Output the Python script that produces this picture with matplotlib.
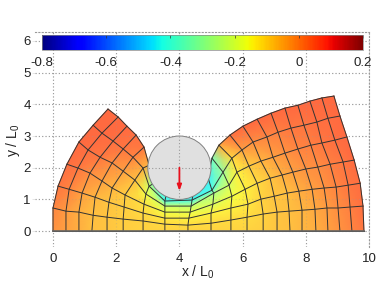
import numpy as np
import matplotlib
matplotlib.use("Agg")
import matplotlib.pyplot as plt
from matplotlib.cm import ScalarMappable
from matplotlib.colors import ListedColormap, Normalize
from matplotlib.patches import Circle

plt.rcParams["font.family"] = ["Liberation Sans", "DejaVu Sans"]
plt.rcParams["mathtext.fontset"] = "custom"
plt.rcParams["mathtext.rm"] = "Liberation Sans"
plt.rcParams["mathtext.default"] = "rm"

# mesh nodes, one row per layer from the bottom up
mesh_x = [
    [0, .41, .82, 1.23, 1.71, 2.22, 2.85, 3.54, 4.27, 5.0, 5.63, 6.14, 6.65, 7.09, 7.5, 7.88, 8.32, 8.7, 9.08, 9.46, 9.84],
    [0, .41, .82, 1.27, 1.71, 2.22, 2.85, 3.54, 4.27, 5.0, 5.63, 6.14, 6.65, 7.09, 7.47, 7.88, 8.29, 8.67, 9.02, 9.4, 9.81],
    [.16, .51, .92, 1.33, 1.77, 2.25, 2.85, 3.54, 4.3, 5.0, 5.63, 6.17, 6.58, 7.0, 7.41, 7.78, 8.2, 8.58, 8.96, 9.34, 9.72],
    [.44, .79, 1.17, 1.55, 1.87, 2.28, 2.88, 3.54, 4.34, 5.06, 5.66, 6.08, 6.46, 6.87, 7.25, 7.59, 8.0, 8.38, 8.77, 9.18, 9.53],
    [.82, 1.11, 1.49, 1.87, 2.22, 2.59, 2.94, 3.54, 4.37, 5.09, 5.57, 5.82, 6.2, 6.58, 6.96, 7.34, 7.75, 8.16, 8.51, 8.92, 9.3],
    [1.27, 1.55, 1.9, 2.22, 2.53, 2.85, 3.04, 3.54, 4.4, 5.03, 5.38, 5.66, 5.98, 6.33, 6.77, 7.12, 7.53, 7.94, 8.35, 8.7, 9.08],
    [1.74, 2.06, 2.34, 2.63, 2.88, 3.04, 3.2, 3.58, 4.43, 4.91, 5.03, 5.25, 5.6, 6.01, 6.46, 6.9, 7.34, 7.75, 8.13, 8.51, 8.89],
]
mesh_y = [
    [0] * 21,
    [.73, .63, .6, .5, .44, .38, .32, .22, .19, .25, .35, .44, .54, .6, .63, .66, .69, .73, .73, .76, .79],
    [1.42, 1.32, 1.2, 1.07, .91, .76, .57, .41, .41, .57, .73, .85, 1.01, 1.1, 1.2, 1.26, 1.32, 1.36, 1.39, 1.45, 1.51],
    [2.11, 1.99, 1.83, 1.58, 1.36, 1.14, .85, .6, .6, .85, 1.1, 1.32, 1.51, 1.67, 1.77, 1.86, 1.96, 2.02, 2.11, 2.18, 2.24],
    [2.81, 2.56, 2.33, 2.15, 1.89, 1.61, 1.17, .79, .79, 1.2, 1.45, 1.86, 2.05, 2.21, 2.33, 2.46, 2.59, 2.71, 2.78, 2.87, 2.97],
    [3.34, 3.09, 2.84, 2.59, 2.33, 1.99, 1.42, .95, .98, 1.29, 1.86, 2.3, 2.56, 2.81, 2.97, 3.12, 3.25, 3.34, 3.44, 3.56, 3.63],
    [3.85, 3.6, 3.31, 3.03, 2.65, 2.08, 1.51, 1.14, 1.14, 1.67, 2.3, 2.71, 3.03, 3.31, 3.53, 3.72, 3.88, 3.97, 4.1, 4.2, 4.26],
]
mesh_value = [
    [-.01, -.03, -.05, -.07, -.08, -.09, -.1, -.1, -.1, -.1, -.1, -.1, -.09, -.08, -.07, -.06, -.05, -.03, -.01, .01, .03],
    [.01, -.02, -.05, -.07, -.08, -.09, -.1, -.11, -.11, -.11, -.11, -.11, -.1, -.08, -.07, -.06, -.04, -.02, 0, .02, .04],
    [.03, .01, -.03, -.06, -.08, -.09, -.11, -.13, -.14, -.14, -.14, -.13, -.1, -.08, -.07, -.05, -.03, -.01, .01, .03, .04],
    [.04, .03, 0, -.03, -.06, -.09, -.12, -.16, -.17, -.2, -.16, -.14, -.11, -.08, -.05, -.03, -.01, 0, .02, .03, .05],
    [.05, .04, .03, 0, -.03, -.07, -.16, -.22, -.23, -.27, -.21, -.14, -.09, -.06, -.03, -.01, .01, .02, .03, .04, .05],
    [.05, .05, .04, .03, .01, -.05, -.22, -.42, -.43, -.42, -.3, -.11, -.03, 0, .01, .02, .03, .03, .04, .04, .05],
    [.05, .05, .05, .04, .03, -.06, -.38, -.44, -.45, -.45, -.35, -.04, .04, .05, .05, .05, .05, .05, .05, .05, .05],
]

cylinder_x = 4.0
cylinder_y = 2.0
cylinder_r = 1.0
arrow_start = 2.0
arrow_end = 1.27

x_ticks = [0, 2, 4, 6, 8, 10]
y_ticks = [0, 1, 2, 3, 4, 5, 6]
cbar_ticks = [-0.8, -0.6, -0.4, -0.2, 0, 0.2]
cbar_labels = ["-0.8", "-0.6", "-0.4", "-0.2", "0", "0.2"]

X = np.array(mesh_x)
Y = np.array(mesh_y)
C = np.array(mesh_value)

grid_color = "#9a9a9a"
grid_dots = (0, (1, 2))

# the surface looks washed out compared with the bar
jet_colors = plt.get_cmap("jet")(np.linspace(0, 1, 256))[:, :3]
pale_jet = ListedColormap(jet_colors * 0.75 + 0.25)

W, H = 380, 284
fig = plt.figure(figsize=(W / 100, H / 100), dpi=100)
ax = fig.add_axes([35 / W, (H - 247) / H, 334 / W, 215 / H])

ax.set_xlim(-0.57, 10)
ax.set_ylim(-0.5, 6.28)
ax.set_xticks(x_ticks)
ax.set_yticks(y_ticks)
ax.grid(True, color=grid_color, linestyle=grid_dots, linewidth=0.8)
ax.set_axisbelow(True)
ax.tick_params(length=2, width=0.5, color="#dddddd", labelsize=9.5, labelcolor="#222222", pad=1)
ax.tick_params(axis="x", length=0, pad=4)

for side in ["left", "bottom"]:
    ax.spines[side].set_visible(False)
for side in ["top", "right"]:
    ax.spines[side].set_color(grid_color)
    ax.spines[side].set_linestyle(grid_dots)
    ax.spines[side].set_linewidth(0.8)

norm = Normalize(-0.8, 0.2)
ax.pcolormesh(X, Y, C, shading="gouraud", cmap=pale_jet, norm=norm, zorder=2)

# grid only shows faintly through the surface
ax.vlines(x_ticks, -0.5, 6.28, color=grid_color, linestyle=grid_dots, linewidth=0.8, alpha=0.3, zorder=2.5)
ax.hlines(y_ticks, -0.57, 10, color=grid_color, linestyle=grid_dots, linewidth=0.8, alpha=0.3, zorder=2.5)

ax.plot(X, Y, color="#333333", linewidth=0.7, zorder=3)
ax.plot(X.T, Y.T, color="#333333", linewidth=0.7, zorder=3)
ax.plot(X[0], Y[0], color="#666666", linewidth=1.2, zorder=3)

cylinder = Circle((cylinder_x, cylinder_y), cylinder_r, facecolor="#e0e0e0", edgecolor="#808080", linewidth=0.7, zorder=4)
ax.add_patch(cylinder)
for line in [ax.axvline(cylinder_x, zorder=5), ax.axhline(cylinder_y, zorder=5)]:
    line.set(color=grid_color, linestyle=grid_dots, linewidth=0.8)
    line.set_clip_path(cylinder)

ax.annotate("", xy=(cylinder_x, arrow_end), xytext=(cylinder_x, arrow_start), zorder=6,
            arrowprops=dict(arrowstyle="-|>,head_width=0.13,head_length=0.35", color="#e8101c", linewidth=1.3,
                            shrinkA=0, shrinkB=0))

fig.text(198 / W, 1 - 272 / H, "x / L$_0$", ha="center", va="center", fontsize=10, color="#222222")
fig.text(13 / W, 1 - 140 / H, "y / L$_0$", ha="center", va="center", rotation=90, fontsize=10, color="#222222")

cax = fig.add_axes([42 / W, (H - 50) / H, 321 / W, 15 / H])
cbar = fig.colorbar(ScalarMappable(norm=norm, cmap="jet"), cax=cax, orientation="horizontal")
cbar.set_ticks(cbar_ticks)
cbar.set_ticklabels(cbar_labels)
cax.tick_params(axis="x", direction="in", length=2, width=0.5, color="#333333", labelsize=9.5,
                labelcolor="#222222", pad=5, top=True, bottom=False)
cbar.outline.set_edgecolor("#888888")
cbar.outline.set_linewidth(0.5)

fig.savefig("out.png", dpi=100)
